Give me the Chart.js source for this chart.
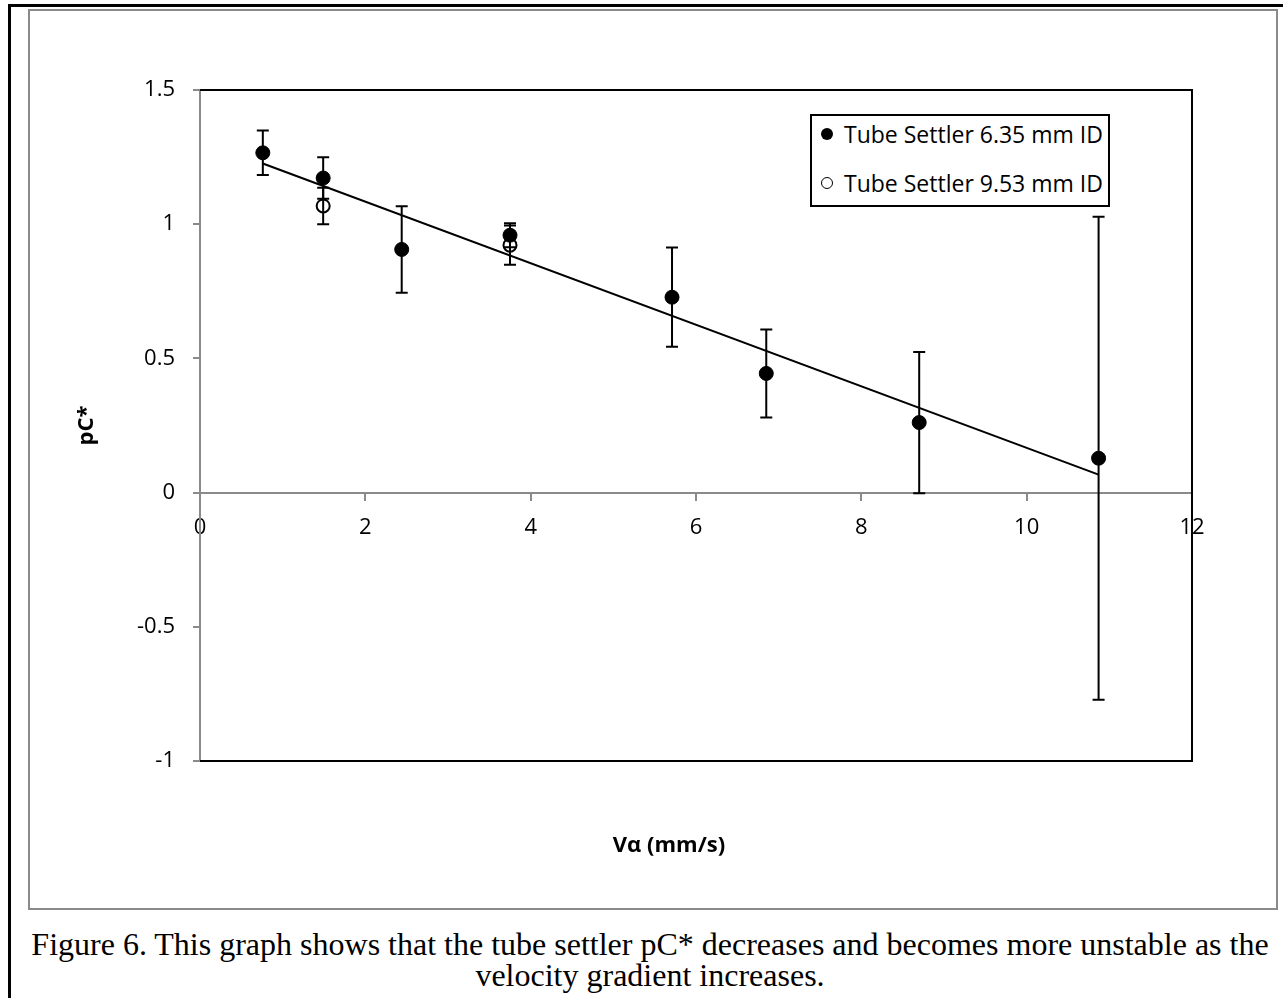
<!DOCTYPE html>
<html>
<head>
<meta charset="utf-8">
<script src="https://cdn.jsdelivr.net/npm/chart.js@4.4.1/dist/chart.umd.min.js"></script>
<style>
  body { margin: 0; background: #fff; width: 1283px; height: 998px; overflow: hidden; position: relative; }
  #frame { position: absolute; left: 8px; top: 4px; width: 1290px; height: 1010px; border-left: 3px solid #000; border-top: 3px solid #000; }
  #box { position: absolute; left: 28px; top: 9px; width: 1246px; height: 897px; border: 2px solid #8a8a8a; }
  #wrap { position: absolute; left: 29px; top: 10px; width: 1246px; height: 897px; }
  #xtitle { position: absolute; left: 569px; width: 200px; top: 828px; text-align: center; font: bold 22px "Open Sans"; color: #000; }
  #legend { position: absolute; left: 810px; top: 114px; width: 300px; height: 93px; border: 2px solid #000; background: #fff; box-sizing: border-box; font: 23px "Open Sans"; color: #000; }
  .item { position: absolute; left: 0; height: 30px; line-height: 30px; white-space: nowrap; }
  .mk { position: absolute; left: 9px; top: 9px; width: 12px; height: 12px; border-radius: 50%; box-sizing: border-box; }
  .item span.t { position: absolute; left: 32px; }
  #caption { position: absolute; left: 0; width: 1300px; top: 929px; text-align: center; font: 32px/31px "Liberation Serif"; color: #000; }
</style>
</head>
<body>
<div id="frame"></div>
<div id="box"></div>
<div id="wrap"><canvas id="chart" width="1246" height="897"></canvas></div>
<div id="xtitle">Vα (mm/s)</div>
<div id="legend"></div>
<div id="caption">Figure 6. This graph shows that the tube settler pC* decreases and becomes more unstable as the<br>velocity gradient increases.</div>
<script>
// series
var seriesNames = ["Tube Settler 6.35 mm ID", "Tube Settler 9.53 mm ID"];
var smallX = [0.76, 1.49, 2.44, 3.75, 5.71, 6.85, 8.70, 10.87];
var smallY = [1.266, 1.172, 0.906, 0.959, 0.728, 0.444, 0.261, 0.128];
var smallErr = [0.083, 0.077, 0.161, 0.045, 0.185, 0.164, 0.263, 0.9];
var largeX = [1.49, 3.75];
var largeY = [1.068, 0.922];
var largeErr = [0.068, 0.073];
var trendX = [0.76, 10.87];
var trendY = [1.226, 0.067];
var xTicks = [0, 2, 4, 6, 8, 10, 12];
var yTicks = [-1, -0.5, 0, 0.5, 1, 1.5];

function pts(xs, ys) {
    return xs.map(function(x, i) { return { x: x, y: ys[i] }; });
}

var errorBars = {
    id: 'errorBars',
    beforeDatasetsDraw: function(chart) {
        var ctx = chart.ctx, xs = chart.scales.x, ys = chart.scales.y;
        ctx.save();
        ctx.strokeStyle = '#000';
        ctx.lineWidth = 2;
        chart.data.datasets.forEach(function(ds) {
            if (!ds.err) return;
            ds.data.forEach(function(p, i) {
                var px = xs.getPixelForValue(p.x);
                var top = ys.getPixelForValue(p.y + ds.err[i]);
                var bot = ys.getPixelForValue(p.y - ds.err[i]);
                ctx.beginPath();
                ctx.moveTo(px, top); ctx.lineTo(px, bot);
                ctx.moveTo(px - 6, top); ctx.lineTo(px + 6, top);
                ctx.moveTo(px - 6, bot); ctx.lineTo(px + 6, bot);
                ctx.stroke();
            });
        });
        ctx.restore();
    }
};

var plotFrame = {
    id: 'plotFrame',
    afterDraw: function(chart) {
        var a = chart.chartArea, ctx = chart.ctx;
        ctx.save();
        ctx.strokeStyle = '#000';
        ctx.lineWidth = 2;
        ctx.beginPath();
        ctx.moveTo(a.left, a.top); ctx.lineTo(a.right, a.top);
        ctx.lineTo(a.right, a.bottom); ctx.lineTo(a.left, a.bottom);
        ctx.stroke();
        ctx.restore();
    }
};

var tickFont = { family: 'Open Sans', size: 22 };

var chart = new Chart(document.getElementById('chart'), {
    type: 'scatter',
    data: {
        datasets: [
            {
                label: seriesNames[0],
                data: pts(smallX, smallY),
                err: smallErr,
                backgroundColor: '#000',
                borderColor: '#000',
                pointRadius: 7,
                order: 1
            },
            {
                label: seriesNames[1],
                data: pts(largeX, largeY),
                err: largeErr,
                backgroundColor: 'rgba(0,0,0,0)',
                borderColor: '#000',
                borderWidth: 2,
                pointRadius: 6.5,
                order: 2
            },
            {
                label: 'trend',
                type: 'line',
                data: pts(trendX, trendY),
                borderColor: '#000',
                borderWidth: 2,
                pointRadius: 0,
                fill: false,
                order: 3
            }
        ]
    },
    options: {
        responsive: false,
        animation: false,
        layout: { padding: { left: 41, top: 80, right: 83, bottom: 146 } },
        plugins: {
            legend: { display: false },
            tooltip: { enabled: false }
        },
        scales: {
            x: {
                type: 'linear',
                min: 0, max: 12,
                position: { y: 0 },
                afterBuildTicks: function(s) { s.ticks = xTicks.map(function(v) { return { value: v }; }); },
                grid: { drawOnChartArea: false, color: '#8a8a8a', lineWidth: 2, tickLength: 7 },
                border: { color: '#8a8a8a', width: 2 },
                ticks: { color: '#000', font: tickFont, padding: 15, maxRotation: 0 }
            },
            y: {
                type: 'linear',
                min: -1, max: 1.5,
                afterBuildTicks: function(s) { s.ticks = yTicks.map(function(v) { return { value: v }; }); },
                afterFit: function(s) { s.width = 130; },
                grid: { drawOnChartArea: false, color: '#8a8a8a', lineWidth: 2, tickLength: 7 },
                border: { color: '#8a8a8a', width: 2 },
                ticks: { color: '#000', font: tickFont, padding: 18, callback: function(v) { return String(v); } },
                title: { display: true, text: 'pC*', color: '#000', font: { family: 'Open Sans', size: 22, weight: 'bold' } }
            }
        }
    },
    plugins: [errorBars, plotFrame]
});

// legend built from the series names
var legend = document.getElementById('legend');
seriesNames.forEach(function(name, i) {
    var item = document.createElement('div');
    item.className = 'item';
    item.style.top = (i === 0 ? 3 : 52) + 'px';
    var mk = document.createElement('div');
    mk.className = 'mk';
    if (i === 0) mk.style.background = '#000';
    else mk.style.border = '1.5px solid #000';
    var t = document.createElement('span');
    t.className = 't';
    t.textContent = name;
    item.appendChild(mk);
    item.appendChild(t);
    legend.appendChild(item);
});
</script>
</body>
</html>
